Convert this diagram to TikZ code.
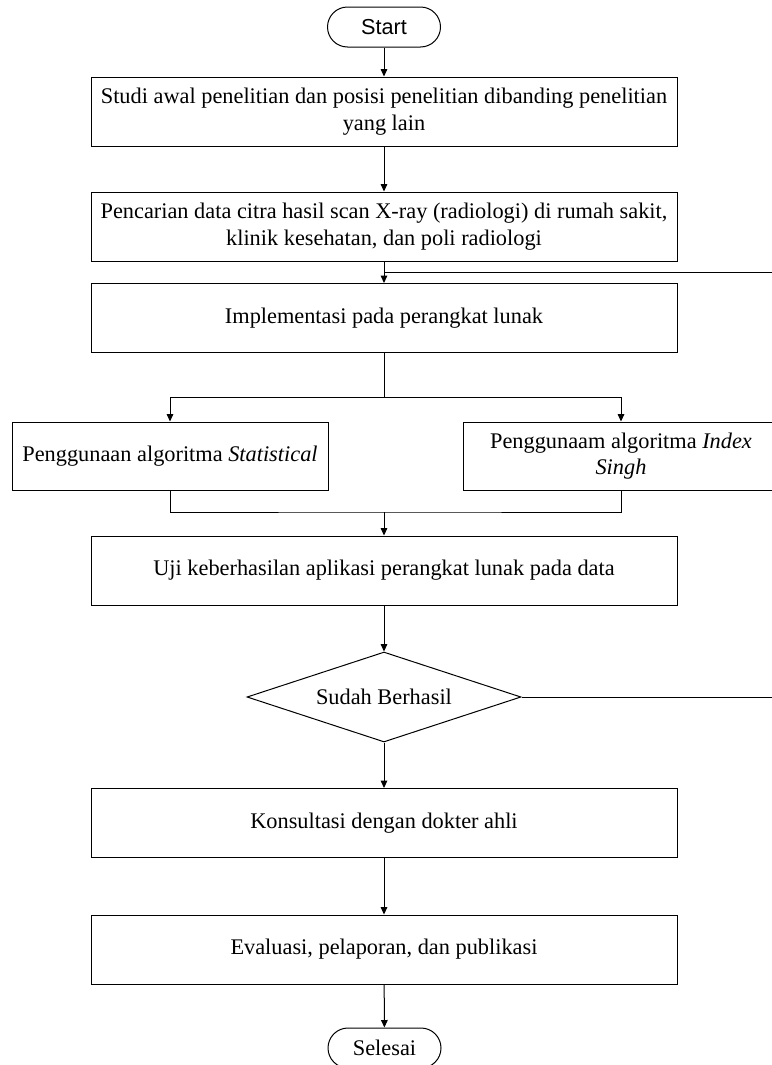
\documentclass[tikz,border=0pt]{standalone}
\usepackage{fontspec}
\setmainfont{Liberation Serif}
\newfontfamily\termsans{Liberation Sans}
\usepackage{tikz}
\usetikzlibrary{arrows.meta,positioning,shapes.geometric,calc}

\begin{document}
\begin{tikzpicture}[
  x=0.6pt, y=-0.6pt,
  line width=0.6pt,
  every node/.style={font=\fontsize{13.4}{16}\selectfont},
  procbox/.style={draw, align=center, minimum width=351.6pt, minimum height=41.4pt, inner sep=2pt},
  algbox/.style={draw, align=center, minimum width=189.6pt, minimum height=40.8pt, inner sep=2pt},
  termbox/.style={draw, rounded corners=12pt, minimum width=67.8pt, minimum height=24pt, inner sep=0pt},
  decbox/.style={draw, diamond, aspect=3, inner sep=0pt, minimum width=164.4pt, minimum height=54pt},
  arr/.style={-{Triangle[length=4.5pt,width=4pt]}}
]
\useasboundingbox (0,0) rectangle (772,1065);

\node[termbox, font=\termsans\fontsize{13}{15}\selectfont] (start) at (384,27) {Start};
\node[procbox] (studi) at (384,111.5) {Studi awal penelitian dan posisi penelitian dibanding penelitian\\yang lain};
\node[procbox] (cari) at (384,226.5) {Pencarian data citra hasil scan X-ray (radiologi) di rumah sakit,\\klinik kesehatan, dan poli radiologi};
\node[procbox] (impl) at (384,318) {Implementasi pada perangkat lunak};
\node[algbox] (stat) at (170,456) {Penggunaan algoritma \textit{Statistical}};
\node[algbox] (singh) at (621,456) {Penggunaam algoritma \textit{Index}\\\textit{Singh}};
\node[procbox] (uji) at (384,570.5) {Uji keberhasilan aplikasi perangkat lunak pada data};
\node[decbox] (cek) at (384,697) {Sudah Berhasil};
\node[procbox] (konsul) at (384,823) {Konsultasi dengan dokter ahli};
\node[procbox] (eval) at (384,949.5) {Evaluasi, pelaporan, dan publikasi};
\node[termbox] (selesai) at (384.5,1048) {Selesai};

\coordinate (split) at (384,397);
\coordinate (merge) at (384,512);
\coordinate (back) at (780,697);
\coordinate (rejoin) at (384,272);

\draw[arr] (start) -- (studi);
\draw[arr] (studi) -- (cari);
\draw[arr] (cari) -- (impl);
\draw (impl) -- (split);
\draw[arr] (split) -| (stat);
\draw[arr] (split) -| (singh);
\draw (stat) |- (merge) -| (singh);
\draw[arr] (merge) -- (uji);
\draw[arr] (uji) -- (cek);
\draw[arr] (cek) -- (konsul);
\draw[arr] (konsul) -- (eval);
\draw[arr] (eval) -- (selesai);
% belum berhasil: kembali ke implementasi
\draw (cek.east) -- (back) |- (rejoin);
\end{tikzpicture}
\end{document}
